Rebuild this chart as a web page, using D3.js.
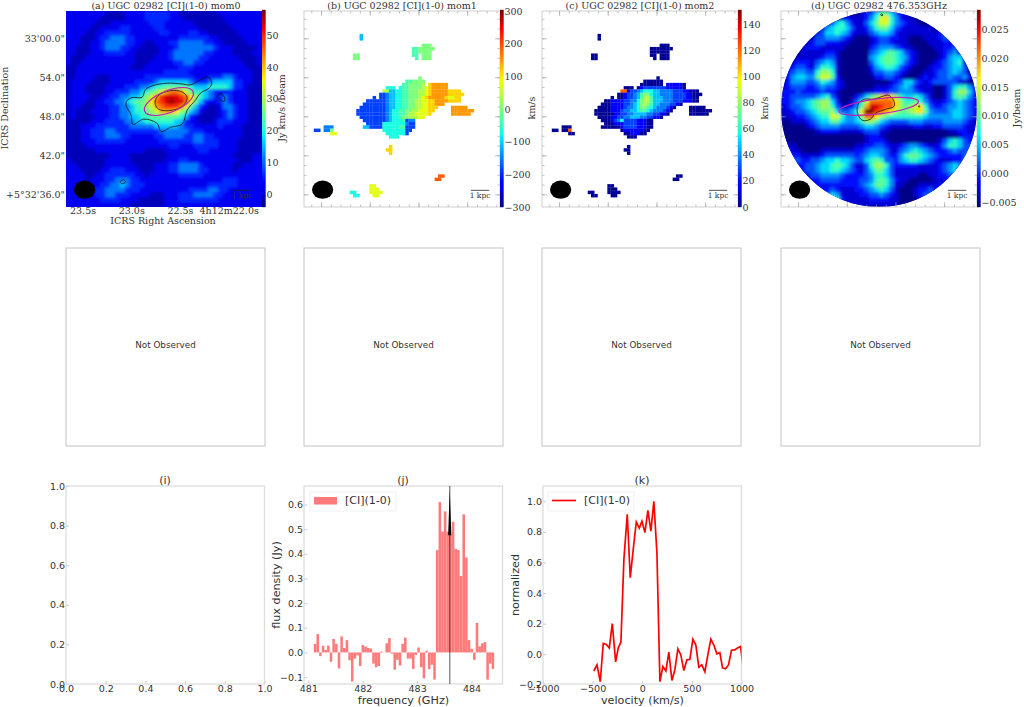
<!DOCTYPE html>
<html>
<head>
<meta charset="utf-8">
<script src="https://cdn.jsdelivr.net/npm/d3@7"></script>
<style>
  body { margin: 0; background: #fff; }
  svg { display: block; }
  .serif text, text.serif { font-family: "DejaVu Serif", serif; fill: #333; }
  .sans text, text.sans { font-family: "DejaVu Sans", sans-serif; fill: #333; }
</style>
</head>
<body>
<svg id="fig" width="1024" height="707"></svg>
<script>
// ---- data ----

// value of each level character (0-f) in the map rows below
const mom0Levels = [-4, -1, 2, 6, 11, 16, 21, 25, 29, 33, 37, 41, 45, 49, 53, 57];
const mom1Levels = [-262, -225, -188, -150, -112, -75, -38, 0, 38, 75, 112, 150, 188, 225, 262, 300];
const mom2Levels = [3, 19, 28, 37, 47, 56, 66, 75, 84, 94, 103, 112, 122, 131, 141, 150];
const contLevels = [-0.0055, -0.0033, -0.001, 0.0012, 0.0035, 0.0057, 0.008, 0.0102, 0.0125, 0.0147, 0.017, 0.0192, 0.0215, 0.0237, 0.026, 0.0283];

// (a) moment 0, 40 x 40 coarse cells
const mom0Rows = [
  "2222222211112222333332211111111222222222",
  "2222222111112222333332221111111122222222",
  "2222221112222222233322222211111112222222",
  "2222211222233222223322222221111111222222",
  "2222112233333222222332222332211111122222",
  "2221112334443322222222233333322111112222",
  "2221122344443322112223344444332211111222",
  "2211122344433221111222344444443222111112",
  "2211122233332211111223444444332222111122",
  "2111222222222211112223444443322222211112",
  "2112222222222211122222334433222222221112",
  "1122222222222111222222233322222222222111",
  "1122222222222222222233333222222222222211",
  "1122221112222222333333333322233344322211",
  "1222211112222233334555555433345555332211",
  "1222111122223334456677777655566665332111",
  "1222111122333445" + "6789bccb976654" + "3223222111",
  "1222211223344" + "55689bdeeedca865" + "43343222111",
  "122211223344" + "56778acdefeeca75" + "322343222111",
  "1221112223344" + "56789bcdddca75" + "3211244322111",
  "1211122223344" + "566789bbba8754" + "2111234322111",
  "1211112223344" + "5566777777653" + "21111234322111",
  "1111122233334455666666553221112333222111",
  "1112223333333444445555543322222322221111",
  "1112233344333333333444444333222222221111",
  "1112233344433222223344443344332222221111",
  "1112223333332222222333333344333222211111",
  "1111222222222222222223322233333222211111",
  "1111112222222222111122222223322222211111",
  "1111111112222111111112222222222222111122",
  "2111111122222111111122233222222222211122",
  "2211111122222211112223344443222222112222",
  "2221111223332221112223344443322222122222",
  "2222112233333322122222233333222222222222",
  "2222122233444332222222222222222233322222",
  "2222222334454333222222222222233333322222",
  "2222223344443332222222222333344332222222",
  "2222223344333222211122233344443322222222",
  "2222222333322221111122233333333222222222",
  "2222222222222111111122222222222222222222"
];

// (d) continuum, 40 x 40 coarse cells
const contRows = [
  "0000000000000000123577532100000000000000",
  "0000000000001211124" + "69a642110000000000000",
  "0000000000356421135799643211000000000000",
  "0000000014566531124677532111111000000000",
  "0000000235565421113455421111111123000000",
  "0000001334443210001233221100011123300000",
  "0000012332221100001233211100001112210000",
  "0000122211111000002344432110000112231000",
  "0000111112210000003456765321000012342000",
  "0001111123310000004567765421000012455100",
  "0012221345410000003567765321000123456200",
  "0123321466510000002456653210001223455300",
  "0234433688610000001334432100011233454300",
  "0245544799720000000223321000121233433420",
  "1244433465421000000000123553212333331100",
  "1233322343321000000111234542111001356642",
  "2223222232210000011222334443211001368852",
  "2233333456" + "3100023578" + "aba8655653" + "1001367642",
  "2234456788" + "52001369cc" + "ccca866764" + "2112345432",
  "1233456788" + "6311247bee" + "dcca8789a6" + "3223445432",
  "1123345677" + "853346affd" + "cba87789a7" + "4333455432",
  "1112234566" + "9964458cca" + "8766666665" + "4444455432",
  "0011123455775445688754333344433334444321",
  "0000012344443333455432111112211223333211",
  "0000000122221111233311000000000000112211",
  "0000000000000000012210000000000000001222",
  "0000000000000000012221000000000013565322",
  "1110000000000001122332112344321124665333",
  "3211000011111112234443113456543222343334",
  "3322111123333332345543224677654322222333",
  "1233223345565543356763324566543211122333",
  "0122233455676531136886322222111123454322",
  "0012233455665432135775311111111123454322",
  "0001123344443222234665311111001122343211",
  "0000112233332222334676421100000112232110",
  "0000011222222222345776411000111122221110",
  "0000001122321112234565310001223222211100",
  "0000000013541111223343210001233321111000",
  "0000000014762111112222110000122211110000",
  "0000000014872111111111110000111111000000"
];

// (b) moment 1 runs: [row, first column, levels], 60 x 60 map pixels
const mom1Runs = [
  [7, 17, "4"], [8, 17, "4"], [13, 15, "77"], [14, 15, "77"],
  [10, 36, "777"], [11, 33, "6677777"], [12, 33, "667777"], [13, 33, "66"], [13, 36, "777"], [14, 34, "6"], [14, 36, "777"],
  [20, 35, "7"],
  [21, 31, "667777"],
  [22, 30, "6677778"], [22, 38, "abbbbb"],
  [23, 25, "555"], [23, 29, "566777789abbbbb"],
  [24, 24, "88"], [24, 26, "445566777889abbbbbaaaa"],
  [25, 23, "223445566777889abbbbbaaaaa"],
  [26, 21, "2"], [26, 23, "22344556677789abbbbba99aa"],
  [27, 19, "2222223445566778899aabbbbaaaa"],
  [28, 18, "22222223445566778899aabbb"],
  [29, 17, "222222223445566778899aaa"], [29, 45, "bbbbb"],
  [30, 16, "2222222223455667788999aa"], [30, 45, "bbbbbbb"],
  [31, 16, "22222222234556678899" + "99a"], [31, 45, "bbbbbb"],
  [32, 17, "22222222345567788899"],
  [33, 18, "2222222345556233"],
  [34, 19, "22222"], [34, 24, "5555555"], [34, 31, "322"],
  [35, 18, "44"], [35, 20, "2222"], [35, 24, "5555566"], [35, 31, "222"],
  [36, 3, "22"], [35, 6, "333"], [36, 6, "337"], [36, 24, "555555522"],
  [37, 8, "99"], [37, 25, "5555552"], [38, 26, "555"],
  [41, 26, "a"], [42, 25, "aa"], [43, 26, "a"],
  [50, 41, "cc"], [51, 40, "cc"],
  [53, 20, "99"], [54, 20, "999"], [55, 20, "9999"], [56, 21, "99"],
  [55, 14, "55"], [56, 15, "55"]
];

// (c) moment 2 runs, same mask as moment 1
const mom2Runs = [
  [7, 17, "0"], [8, 17, "0"], [13, 15, "00"], [14, 15, "00"],
  [10, 36, "000"], [11, 33, "0000000"], [12, 33, "000000"], [13, 33, "00"], [13, 36, "000"], [14, 34, "0"], [14, 36, "000"],
  [20, 35, "0"],
  [21, 31, "000000"],
  [22, 30, "0000000"], [22, 38, "111110"],
  [23, 25, "000"], [23, 29, "012222222111110"],
  [24, 24, "cc"], [24, 26, "1223455544333322211000"],
  [25, 23, "001" + "2234677544333322221100" + "0"],
  [26, 21, "0"], [26, 23, "001" + "2234688644433322221100"],
  [27, 19, "0011112" + "2335788644433322211100"],
  [28, 18, "00011112" + "23457876443332210"],
  [29, 17, "000011112" + "334577654333210"], [29, 45, "00000"],
  [30, 16, "0000011123" + "34456654333210"], [30, 45, "0000000"],
  [31, 16, "0000001122" + "3344443322110"], [31, 45, "000000"],
  [32, 17, "000011223" + "34443322110"],
  [33, 18, "00012352" + "22211100"],
  [34, 19, "00011"], [34, 24, "1222211"], [34, 31, "100"],
  [35, 18, "00"], [35, 20, "0000"], [35, 24, "1222211"], [35, 31, "100"],
  [36, 3, "00"], [35, 6, "000"], [36, 6, "00c"], [36, 24, "011111100"],
  [37, 8, "00"], [37, 25, "0011100"], [38, 26, "000"],
  [41, 26, "0"], [42, 25, "00"], [43, 26, "0"],
  [50, 41, "00"], [51, 40, "00"],
  [53, 20, "00"], [54, 20, "000"], [55, 20, "0000"], [56, 21, "00"],
  [55, 14, "00"], [56, 15, "00"]
];

// contour outlines in map pixels
const mom0Contours = [
  [[18.5,27.7],[20.2,26.5],[23.3,26.4],[24.3,24.1],[26.4,22.9],[31,22.1],[35.1,22.3],[38.2,22.6],[41.2,21],[43.5,20.2],[44.6,22.1],[43.8,23.6],[41.2,25.1],[39.7,27.2],[37.1,30.3],[35.6,34.6],[32,35.6],[29.1,36.9],[27.9,34.4],[23.8,33.1],[20.5,34.7],[19.9,31.8],[18.5,29.2]],
  [[27.4,27.2],[28.9,25.4],[33,24.3],[36.1,25.1],[37.1,26.7],[35.6,29.2],[31.5,30.5],[28.4,30.1],[27.4,28.7]],
  [[46.2,26.2],[47.4,25.3],[48.6,26.7],[48.4,27.7],[46.9,27]],
  [[16.6,52.3],[17.6,51.6],[18.2,52.3],[17.1,52.9]]
];
const contContours = [
  [[23.3,29.7],[23.8,28.2],[25.6,27],[28.4,27],[30.8,26.2],[33,25.8],[34.6,27.7],[34.6,29.2],[32,30.1],[28.9,31.3],[27.4,33.1],[25,33.5],[23.6,31.8]],
  [[30.5,1.1],[30.9,0.9],[31.2,1.2],[30.9,1.5]],
  [[42.1,29.1],[42.4,29],[42.5,29.3],[42.2,29.4]]
];

// colorbar ticks
const mom0Ticks = [0, 10, 20, 30, 40, 50];
const mom1Ticks = [-300, -200, -100, 0, 100, 200, 300];
const mom2Ticks = [0, 20, 40, 60, 80, 100, 120, 140];
const contTicks = [-0.005, 0, 0.005, 0.01, 0.015, 0.02, 0.025];

// sky axis labels of panel (a)
const raLabels = ["23.5s", "23.0s", "22.5s", "4h12m22.0s"];
const decLabels = ["33'00.0\"", "54.0\"", "48.0\"", "42.0\"", "+5°32'36.0\""];
const raTicks = [23.5, 23.0, 22.5, 22.0];
const decTicks = [60, 54, 48, 42, 36];

// (j) spectrum
const firstChannel = 481.125;
const channelWidth = 0.0488;
const fluxJy = [0.035, 0.075, -0.015, 0.027, 0.01, 0.028, -0.038, 0.055, 0.035, -0.065, 0.065, 0.018, 0.05, -0.032, -0.118, -0.025, -0.012, -0.055, 0.03, 0.024, 0.018, 0.016, -0.045, -0.06, -0.055, 0.004, 0, 0.037, 0.058, -0.005, -0.07, -0.03, -0.053, 0.035, 0.06, -0.025, -0.025, -0.067, -0.01, 0.02, -0.06, -0.105, 0.007, -0.068, -0.05, -0.11, 0.415, 0.61, 0.49, 0.572, 0.49, 0.48, 0.53, 0.42, 0.415, 0.31, 0.56, 0.385, 0.05, 0.015, -0.03, 0.12, 0.025, 0.037, 0.042, -0.11, -0.045, -0.067];
const lineFreq = 483.6;

// (k) normalised line
const velocity = [-487, -456, -423, -393, -362, -332, -302, -268, -242, -215, -185, -151, -121, -90, -60, -30, -3, 27, 57, 87, 117, 148, 178, 208, 238, 268, 299, 329, 359, 389, 419, 450, 480, 510, 540, 570, 600, 631, 661, 691, 721, 752, 782, 809, 839, 869, 899, 930, 960, 990, 1020];
const normalized = [-0.11, -0.07, -0.18, 0.07, 0.063, 0.04, 0.2, -0.05, 0.04, 0.08, 0.62, 0.915, 0.5, 0.69, 0.865, 0.825, 0.87, 0.795, 0.94, 0.805, 1.0, 0.66, -0.18, -0.08, -0.11, 0.013, -0.172, -0.1, 0.035, -0.005, -0.107, -0.037, -0.033, 0.098, 0.06, -0.085, -0.07, -0.115, -0.005, 0.098, 0.06, 0.002, 0.01, -0.09, -0.096, -0.07, 0.026, 0.028, 0.04, 0.05, -0.1];

const unitTicks = [0, 0.2, 0.4, 0.6, 0.8, 1.0];

// ---- drawing ----

const svg = d3.select("#fig");
const defs = svg.append("defs");

// matplotlib jet
const jet = d3.scaleLinear()
    .domain([0, 0.11, 0.125, 0.35, 0.375, 0.64, 0.66, 0.89, 0.91, 1])
    .range(["#00007f", "#0000ff", "#0000ff", "#00e5ff", "#14ffe2", "#f0ff08", "#ffec00", "#ff1300", "#f30000", "#7f0000"])
    .clamp(true);

defs.append("filter").attr("id", "soft")
    .attr("x", "-5%").attr("y", "-5%").attr("width", "110%").attr("height", "110%")
    .append("feGaussianBlur").attr("stdDeviation", 1.5);
defs.append("filter").attr("id", "softer")
    .attr("x", "-5%").attr("y", "-5%").attr("width", "110%").attr("height", "110%")
    .append("feGaussianBlur").attr("stdDeviation", 0.45);

const mapSize = 196;
const mapX = d3.scaleLinear().domain([0, 60]).range([0, mapSize]);
const mapY = d3.scaleLinear().domain([0, 60]).range([0, mapSize]);
const raScale = d3.scaleLinear().domain([23.675, 21.663]).range([0, mapSize]);
const decScale = d3.scaleLinear().domain([64.2, 34.05]).range([0, mapSize]);

const maps = [
  {id: "a", left: 66, title: "(a) UGC 02982 [CI](1-0) mom0", titleX: 166, domain: [-4, 57.6], ticks: mom0Ticks, unit: "Jy km/s /beam", unitX: 282,
   rows: mom0Rows, levels: mom0Levels, contours: mom0Contours, ellipse: {cx: 31.5, cy: 27.7, rx: 8, ry: 3.3, tilt: -22}, base: 2},
  {id: "b", left: 304, title: "(b) UGC 02982 [CI](1-0) mom1", titleX: 402, domain: [-300, 300], ticks: mom1Ticks, unit: "km/s", unitX: 532,
   runs: mom1Runs, levels: mom1Levels},
  {id: "c", left: 542, title: "(c) UGC 02982 [CI](1-0) mom2", titleX: 640, domain: [0, 150], ticks: mom2Ticks, unit: "km/s", unitX: 765,
   runs: mom2Runs, levels: mom2Levels},
  {id: "d", left: 781, title: "(d) UGC 02982 476.353GHz", titleX: 879, domain: [-0.0058, 0.0282], ticks: contTicks, unit: "Jy/beam", unitX: 1017,
   rows: contRows, levels: contLevels, contours: contContours, ellipse: {cx: 29.9, cy: 29.2, rx: 12.3, ry: 2.3, tilt: -7}, base: 0, round: true}
];

const outline = d3.line().x(d => mapX(d[0])).y(d => mapY(d[1])).curve(d3.curveCatmullRomClosed);

maps.forEach(m => {
    const g = svg.append("g").attr("transform", `translate(${m.left},11)`);
    const color = d3.scaleSequential(jet).domain(m.domain);

    defs.append("clipPath").attr("id", "clip-" + m.id)
        .append(m.round ? "circle" : "rect")
        .attr("cx", m.round ? mapX(30) : null).attr("cy", m.round ? mapY(30) : null).attr("r", m.round ? mapX(30) : null)
        .attr("width", m.round ? null : mapSize).attr("height", m.round ? null : mapSize);

    const img = g.append("g").attr("clip-path", `url(#clip-${m.id})`);

    if (m.rows) {
        // full map on coarse cells
        const cells = [];
        m.rows.forEach((row, r) => row.split("").forEach((ch, c) => {
            cells.push({r: r, c: c, v: m.levels[parseInt(ch, 16)]});
        }));
        const cell = mapSize / 40;
        img.append("rect").attr("width", mapSize).attr("height", mapSize).attr("fill", color(m.levels[m.base]));
        img.append("g").attr("filter", "url(#soft)")
            .selectAll("rect").data(cells).join("rect")
            .attr("x", d => d.c * cell)
            .attr("y", d => d.r * cell)
            .attr("width", cell + 0.3)
            .attr("height", cell + 0.3)
            .attr("fill", d => color(d.v));
    } else {
        // masked map on map pixels
        const cells = [];
        m.runs.forEach(([r, c0, levels]) => levels.split("").forEach((ch, i) => {
            cells.push({r: r, c: c0 + i, v: m.levels[parseInt(ch, 16)]});
        }));
        img.append("g").attr("filter", "url(#softer)")
            .selectAll("rect").data(cells).join("rect")
            .attr("x", d => mapX(d.c))
            .attr("y", d => mapY(d.r))
            .attr("width", mapX(1) + 0.2)
            .attr("height", mapY(1) + 0.2)
            .attr("fill", d => color(d.v));
    }

    // frame with ticks on panels b, c, d
    if (m.id !== "a") {
        const minorRa = d3.range(23.6, 21.7, -0.1);
        const minorDec = d3.range(36, 64, 1.5);
        [[d3.axisBottom(raScale), mapSize], [d3.axisTop(raScale), 0]].forEach(([ax, y]) => {
            const axg = g.append("g").attr("transform", `translate(0,${y})`);
            axg.call(ax.tickValues(minorRa).tickSize(-2.5).tickFormat(""));
            axg.append("g").call(ax.tickValues(raTicks).tickSize(-5).tickFormat(""));
            axg.selectAll("line").attr("stroke", "#999").attr("stroke-width", 0.6);
            axg.selectAll(".domain").remove();
        });
        [[d3.axisLeft(decScale), 0], [d3.axisRight(decScale), mapSize]].forEach(([ax, x]) => {
            const axg = g.append("g").attr("transform", `translate(${x},0)`);
            axg.call(ax.tickValues(minorDec).tickSize(-2.5).tickFormat(""));
            axg.append("g").call(ax.tickValues(decTicks).tickSize(-5).tickFormat(""));
            axg.selectAll("line").attr("stroke", "#999").attr("stroke-width", 0.6);
            axg.selectAll(".domain").remove();
        });
        g.append("rect").attr("width", mapSize).attr("height", mapSize)
            .attr("fill", "none").attr("stroke", "#c4c4c4").attr("stroke-width", 0.8);
    }

    // contours and source ellipse
    (m.contours || []).forEach(pts => {
        g.append("path").attr("d", outline(pts))
            .attr("fill", "none").attr("stroke", "#111").attr("stroke-width", 0.8);
    });
    if (m.ellipse) {
        const e = m.ellipse;
        g.append("ellipse")
            .attr("rx", mapX(e.rx)).attr("ry", mapY(e.ry))
            .attr("transform", `translate(${mapX(e.cx)},${mapY(e.cy)}) rotate(${e.tilt})`)
            .attr("fill", "none").attr("stroke", "#c01fb0").attr("stroke-width", 1.2);
    }

    // beam
    g.append("ellipse")
        .attr("cx", mapX(5.7)).attr("cy", mapY(54.7))
        .attr("rx", mapX(3.25)).attr("ry", mapY(2.8))
        .attr("fill", "#000");

    // 1 kpc bar
    g.append("line")
        .attr("x1", mapX(51.1)).attr("x2", mapX(56.7))
        .attr("y1", mapY(54.9)).attr("y2", mapY(54.9))
        .attr("stroke", "#222").attr("stroke-width", 0.8);
    g.append("text").attr("class", "serif")
        .attr("x", mapX(53.9)).attr("y", mapY(57.2))
        .attr("text-anchor", "middle").style("font-size", "7.5px").text("1 kpc");

    // colorbar
    const barY = d3.scaleLinear().domain(m.domain).range([mapSize, 0]);
    const bar = svg.append("g").attr("class", "serif").attr("transform", `translate(${m.left + mapSize},11)`);
    bar.selectAll("rect").data(d3.range(0, 1, 1 / 196)).join("rect")
        .attr("x", 0).attr("width", 3.6)
        .attr("y", d => barY(m.domain[0] + d * (m.domain[1] - m.domain[0])) - 1.2)
        .attr("height", 1.4)
        .attr("fill", d => jet(d));
    const axis = d3.axisRight(barY).tickValues(m.ticks).tickSize(0).tickPadding(4.5);
    if (m.id === "d") axis.tickFormat(d3.format(".3f"));
    bar.append("g").call(axis).call(s => s.select(".domain").remove())
        .selectAll("text").style("font-size", "9.5px").style("font-family", '"DejaVu Serif", serif').attr("fill", "#333");

    svg.append("text").attr("class", "serif")
        .attr("transform", `translate(${m.unitX},108) rotate(-90)`)
        .attr("text-anchor", "middle").attr("dy", "0.35em").style("font-size", "9.5px").text(m.unit);

    svg.append("text").attr("class", "serif")
        .attr("x", m.titleX).attr("y", 8.5)
        .attr("text-anchor", "middle").style("font-size", "9.5px").text(m.title);
});

// sky axis labels of panel (a)
const skyG = svg.append("g").attr("class", "serif").attr("transform", "translate(66,11)");
skyG.selectAll(".ra").data(raTicks).join("text").attr("class", "ra")
    .attr("x", d => raScale(d)).attr("y", 203)
    .attr("text-anchor", "middle").style("font-size", "9.5px")
    .text((d, i) => raLabels[i]);
skyG.selectAll(".dec").data(decTicks).join("text").attr("class", "dec")
    .attr("x", -1).attr("y", d => decScale(d)).attr("dy", "0.35em")
    .attr("text-anchor", "end").style("font-size", "9.5px")
    .text((d, i) => decLabels[i]);
svg.append("text").attr("class", "serif").attr("x", 163).attr("y", 224)
    .attr("text-anchor", "middle").style("font-size", "9.5px").text("ICRS Right Ascension");
svg.append("text").attr("class", "serif")
    .attr("transform", "translate(5,108) rotate(-90)")
    .attr("text-anchor", "middle").attr("dy", "0.35em").style("font-size", "9.5px").text("ICRS Declination");

// middle row: not observed panels
[66, 304, 542, 781].forEach(left => {
    svg.append("rect").attr("x", left).attr("y", 248).attr("width", 199).attr("height", 198)
        .attr("fill", "none").attr("stroke", "#c4c4c4").attr("stroke-width", 1);
    svg.append("text").attr("class", "sans").attr("x", left + 99.5).attr("y", 348)
        .attr("text-anchor", "middle").style("font-size", "8.8px").text("Not Observed");
});

// bottom row helpers
function bottomPanel(left, xScale, yScale, xTicks, yTicks, xFmt, yFmt, title, xLabel, yLabel) {
    const g = svg.append("g").attr("class", "sans").attr("transform", `translate(${left},0)`);
    const h = 684, t = 486;
    g.append("g").attr("transform", `translate(0,${h})`)
        .call(d3.axisBottom(xScale).tickValues(xTicks).tickFormat(xFmt).tickSize(-3).tickPadding(1))
        .call(s => s.select(".domain").remove());
    g.append("g")
        .call(d3.axisLeft(yScale).tickValues(yTicks).tickFormat(yFmt).tickSize(-3).tickPadding(1))
        .call(s => s.select(".domain").remove());
    g.selectAll(".tick line").attr("stroke", "#bbb").attr("stroke-width", 0.8);
    g.selectAll(".tick text").style("font-size", "9.5px").style("font-family", '"DejaVu Sans", sans-serif').attr("fill", "#333");
    g.append("rect").attr("x", 0).attr("y", t).attr("width", 198.5).attr("height", h - t)
        .attr("fill", "none").attr("stroke", "#ddd").attr("stroke-width", 1.3);
    g.append("text").attr("x", 99).attr("y", 484).attr("text-anchor", "middle").style("font-size", "11px").text(title);
    if (xLabel) {
        g.append("text").attr("x", 99.5).attr("y", 704).attr("text-anchor", "middle").style("font-size", "11.2px").text(xLabel);
    }
    if (yLabel) {
        g.append("text").attr("transform", "translate(-28,585) rotate(-90)")
            .attr("text-anchor", "middle").attr("dy", "0.35em").style("font-size", "11.2px").text(yLabel);
    }
    return g;
}

// (i) empty axes
bottomPanel(66,
    d3.scaleLinear().domain([0, 1]).range([0, 198.5]),
    d3.scaleLinear().domain([0, 1]).range([684, 486]),
    unitTicks, unitTicks, d3.format(".1f"), d3.format(".1f"), "(i)");

// (j) spectrum bars
const jx = d3.scaleLinear().domain([480.92, 484.57]).range([0, 198.5]);
const jy = d3.scaleLinear().domain([-0.128, 0.675]).range([684, 486]);
const gj = bottomPanel(304, jx, jy, [481, 482, 483, 484], [-0.1, 0, 0.1, 0.2, 0.3, 0.4, 0.5, 0.6],
    d3.format("d"), d3.format(".1f"), "(j)", "frequency (GHz)", "flux density (Jy)");
gj.selectAll(".bar").data(fluxJy).join("rect").attr("class", "bar")
    .attr("x", (d, i) => jx(firstChannel + i * channelWidth) - 1.33)
    .attr("width", jx(481 + channelWidth) - jx(481) - 0.1)
    .attr("y", d => jy(Math.max(d, 0)))
    .attr("height", d => Math.abs(jy(d) - jy(0)))
    .attr("fill", "#f00").attr("fill-opacity", 0.52);
gj.append("line")
    .attr("x1", jx(lineFreq)).attr("x2", jx(lineFreq))
    .attr("y1", 486).attr("y2", 684)
    .attr("stroke", "#000").attr("stroke-opacity", 0.5).attr("stroke-width", 1.3);
gj.append("path")
    .attr("d", d3.line()([[jx(lineFreq), jy(0.66)], [jx(lineFreq) + 1.6, jy(0.475)], [jx(lineFreq) - 1.6, jy(0.475)]]))
    .attr("fill", "#000");
// legend
gj.append("rect").attr("x", 6).attr("y", 492).attr("width", 86).attr("height", 19)
    .attr("fill", "#fff").attr("fill-opacity", 0.8).attr("stroke", "#eee").attr("stroke-width", 0.8);
gj.append("rect").attr("x", 10).attr("y", 497).attr("width", 23).attr("height", 7.5)
    .attr("fill", "#f00").attr("fill-opacity", 0.52);
gj.append("text").attr("x", 41).attr("y", 504).style("font-size", "11px").text("[CI](1-0)");

// (k) normalised line
const kx = d3.scaleLinear().domain([-1000, 1000]).range([0, 198.5]);
const ky = d3.scaleLinear().domain([-0.195, 1.1]).range([684, 486]);
const gk = bottomPanel(543, kx, ky, [-1000, -500, 0, 500, 1000], [-0.2, 0, 0.2, 0.4, 0.6, 0.8, 1.0],
    d3.format("d"), d3.format(".1f"), "(k)", "velocity (km/s)", "normalized");
defs.append("clipPath").attr("id", "clip-k").append("rect")
    .attr("x", 0).attr("y", 486).attr("width", 198.5).attr("height", 198);
gk.append("path")
    .attr("clip-path", "url(#clip-k)")
    .attr("d", d3.line().x((d, i) => kx(velocity[i])).y(d => ky(d))(normalized))
    .attr("fill", "none").attr("stroke", "#f00").attr("stroke-width", 1.7);
gk.append("rect").attr("x", 5).attr("y", 492).attr("width", 86).attr("height", 19)
    .attr("fill", "#fff").attr("fill-opacity", 0.8).attr("stroke", "#eee").attr("stroke-width", 0.8);
gk.append("line").attr("x1", 9).attr("x2", 33).attr("y1", 500.5).attr("y2", 500.5)
    .attr("stroke", "#f00").attr("stroke-width", 1.7);
gk.append("text").attr("x", 41).attr("y", 504).style("font-size", "11px").text("[CI](1-0)");
</script>
</body>
</html>
